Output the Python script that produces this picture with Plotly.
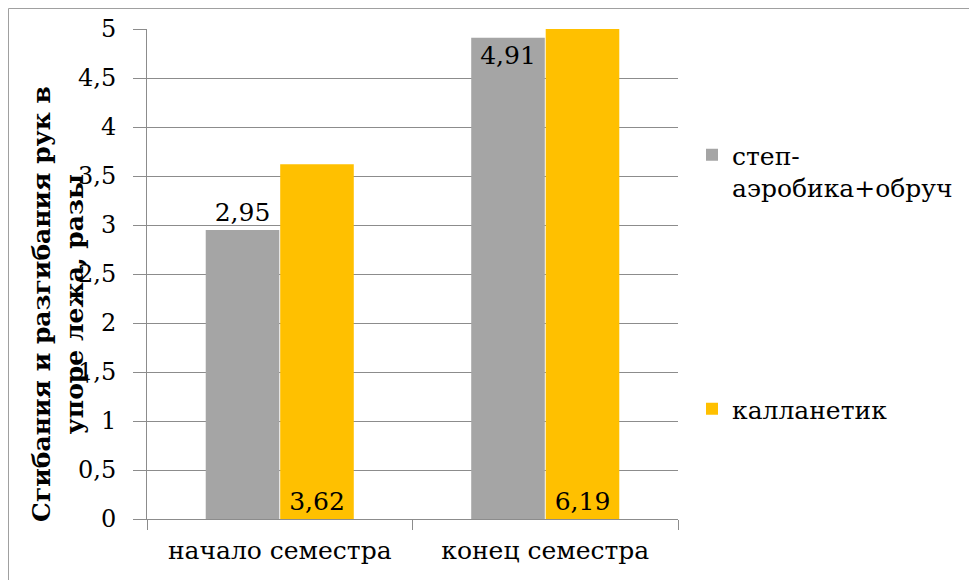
import plotly.graph_objects as go

categories = ["начало семестра", "конец семестра"]
series_names = ["степ-<br>аэробика+обруч", "калланетик"]
step_values = [2.95, 4.91]
callan_values = [3.62, 6.19]
y_title = "Сгибания и разгибания рук в<br>упоре лежа, разы"

GRAY = "#A5A5A5"
ORANGE = "#FFC000"
GRID = "#8C8C8C"
FONT = "DejaVu Serif"

def fmt(v):
    return f"{v:.2f}".replace(".", ",")

Y_MAX = 5

fig = go.Figure()
fig.add_trace(go.Bar(
    x=categories, y=step_values, name=series_names[0],
    marker=dict(color=GRAY, line=dict(width=0)),
    text=[fmt(v) for v in step_values],
    textposition=["outside" if v < Y_MAX * 0.9 else "inside" for v in step_values],
    insidetextanchor="end", constraintext="none",
    textfont=dict(family=FONT, size=25, color="black"),
    cliponaxis=False, legendgroup="a", offsetgroup="a",
))
fig.add_trace(go.Bar(
    x=categories, y=callan_values, name=series_names[1],
    marker=dict(color=ORANGE, line=dict(width=0)),
    textposition="none",
    legendgroup="b", offsetgroup="b",
))
# labels of the orange series drawn at the bar base (zero-height carrier bars)
fig.add_trace(go.Bar(
    x=categories, y=[0 for _ in callan_values], base=0,
    marker=dict(color="rgba(0,0,0,0)", line=dict(width=0)),
    text=[fmt(v) for v in callan_values], textposition="outside",
    textfont=dict(family=FONT, size=25, color="black"),
    cliponaxis=False, offsetgroup="b", showlegend=False, hoverinfo="skip",
))

# page is shown with an 8px body offset
W, H = 968, 575
L, T = 139, 21
R = W - 670
B = H - 511
pw, ph = W - L - R, H - T - B

fig.update_layout(
    width=W, height=H,
    margin=dict(l=L, r=R, t=T, b=B, autoexpand=False),
    paper_bgcolor="white", plot_bgcolor="white",
    separators=", ",
    barmode="group", bargap=0.439, bargroupgap=0.012,
    font=dict(family=FONT, size=24, color="black"),
    showlegend=True,
    legend=dict(
        x=(692 - 8 - L) / pw, y=(511 - 124) / ph, xanchor="left", yanchor="top",
        font=dict(family=FONT, size=25, color="black"),
        tracegroupgap=186, valign="top", bgcolor="rgba(0,0,0,0)",
    ),
)
fig.update_xaxes(
    type="category", showline=True, linecolor=GRID, linewidth=1,
    ticks="outside", tickson="boundaries", ticklen=10, tickcolor=GRID,
    tickfont=dict(family=FONT, size=25, color="black"),
    ticklabelstandoff=9,
    showgrid=False,
)
fig.update_yaxes(
    range=[0, Y_MAX], dtick=0.5, tick0=0,
    showline=True, linecolor=GRID, linewidth=1,
    ticks="outside", ticklen=13, tickcolor=GRID,
    tickfont=dict(family=FONT, size=24, color="black"),
    ticklabelstandoff=12,
    showgrid=True, gridcolor=GRID, gridwidth=1, zeroline=False,
)
fig.add_annotation(
    text="<b>" + y_title + "</b>", textangle=-90,
    xref="paper", yref="paper",
    x=(58 - 8 - L) / pw, y=(511 - 296) / ph,
    xanchor="center", yanchor="middle", showarrow=False,
    font=dict(family=FONT, size=25, color="black"),
)
fig.add_shape(
    type="rect", xref="paper", yref="paper",
    x0=(0.5 - L) / pw, x1=(W - 0.5 - L) / pw,
    y0=(511 - H + 0.5) / ph, y1=(511 - 0.5) / ph,
    line=dict(color="#A0A0A0", width=1), fillcolor="rgba(0,0,0,0)", layer="below",
)
fig.write_html("out.html")
